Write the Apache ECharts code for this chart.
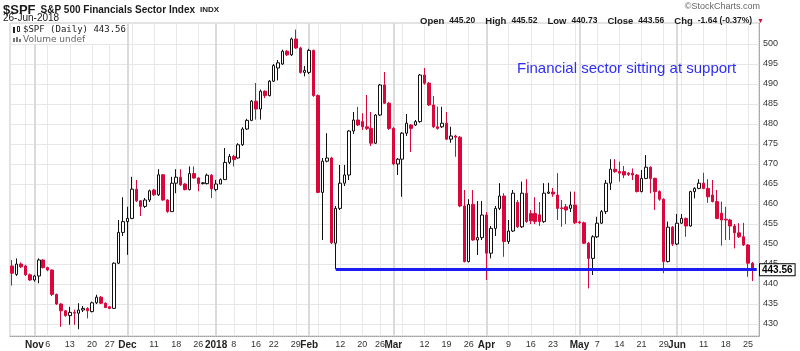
<!DOCTYPE html>
<html><head><meta charset="utf-8">
<script src="https://cdn.jsdelivr.net/npm/echarts@6/dist/echarts.min.js"></script>
<style>html,body{margin:0;padding:0;background:#fff}#c{width:800px;height:351px}</style>
</head><body><div id="c"></div>
<script>
const dates = [
'2017-10-25','2017-10-26','2017-10-27','2017-10-30','2017-10-31',
'2017-11-01','2017-11-02','2017-11-03','2017-11-06','2017-11-07','2017-11-08','2017-11-09','2017-11-10',
'2017-11-13','2017-11-14','2017-11-15','2017-11-16','2017-11-17','2017-11-20','2017-11-21','2017-11-22','2017-11-24',
'2017-11-27','2017-11-28','2017-11-29','2017-11-30',
'2017-12-01','2017-12-04','2017-12-05','2017-12-06','2017-12-07','2017-12-08','2017-12-11','2017-12-12','2017-12-13','2017-12-14','2017-12-15',
'2017-12-18','2017-12-19','2017-12-20','2017-12-21','2017-12-22','2017-12-26','2017-12-27','2017-12-28','2017-12-29',
'2018-01-02','2018-01-03','2018-01-04','2018-01-05','2018-01-08','2018-01-09','2018-01-10','2018-01-11','2018-01-12',
'2018-01-16','2018-01-17','2018-01-18','2018-01-19','2018-01-22','2018-01-23','2018-01-24','2018-01-25','2018-01-26',
'2018-01-29','2018-01-30','2018-01-31',
'2018-02-01','2018-02-02','2018-02-05','2018-02-06','2018-02-07','2018-02-08','2018-02-09','2018-02-12','2018-02-13','2018-02-14','2018-02-15','2018-02-16',
'2018-02-20','2018-02-21','2018-02-22','2018-02-23','2018-02-26','2018-02-27','2018-02-28',
'2018-03-01','2018-03-02','2018-03-05','2018-03-06','2018-03-07','2018-03-08','2018-03-09','2018-03-12','2018-03-13','2018-03-14','2018-03-15','2018-03-16',
'2018-03-19','2018-03-20','2018-03-21','2018-03-22','2018-03-23','2018-03-26','2018-03-27','2018-03-28','2018-03-29',
'2018-04-02','2018-04-03','2018-04-04','2018-04-05','2018-04-06','2018-04-09','2018-04-10','2018-04-11','2018-04-12','2018-04-13',
'2018-04-16','2018-04-17','2018-04-18','2018-04-19','2018-04-20','2018-04-23','2018-04-24','2018-04-25','2018-04-26','2018-04-27','2018-04-30',
'2018-05-01','2018-05-02','2018-05-03','2018-05-04','2018-05-07','2018-05-08','2018-05-09','2018-05-10','2018-05-11',
'2018-05-14','2018-05-15','2018-05-16','2018-05-17','2018-05-18','2018-05-21','2018-05-22','2018-05-23','2018-05-24','2018-05-25',
'2018-05-29','2018-05-30','2018-05-31',
'2018-06-01','2018-06-04','2018-06-05','2018-06-06','2018-06-07','2018-06-08','2018-06-11','2018-06-12','2018-06-13','2018-06-14','2018-06-15',
'2018-06-18','2018-06-19','2018-06-20','2018-06-21','2018-06-22','2018-06-25','2018-06-26'
];
const open = [
444.5,442.4,445.0,444.5,442.3,
441.0,442.0,446.0,444.1,443.5,437.4,435.0,433.3,
432.1,432.9,432.7,433.5,433.9,
433.1,435.3,436.7,435.2,
434.3,433.9,445.2,452.9,
455.6,
456.4,463.7,460.8,459.4,461.0,
463.5,462.3,467.3,461.0,458.1,
465.2,466.7,465.0,463.6,467.6,
466.5,465.1,465.1,467.2,
463.6,465.0,466.1,470.4,
471.9,471.5,474.8,478.75,480.9,
485.7,483.75,488.2,487.1,
490.7,494.0,495.0,498.2,497.3,
501.25,499.0,492.9,
492.9,498.4,
487.1,462.9,470.7,471.5,450.2,
458.9,465.2,467.25,478.25,481.0,
480.6,479.3,478.9,475.2,
482.25,489.75,485.2,
478.9,470.0,
471.2,477.7,479.75,479.75,480.6,
492.25,490.2,484.75,479.3,479.3,
480.2,476.2,477.0,476.7,459.5,
445.6,459.9,451.0,451.6,
457.25,447.7,453.9,458.9,462.0,
450.6,453.25,460.4,454.3,462.7,
457.6,457.6,457.3,455.6,462.7,
463.0,462.25,459.0,459.3,458.9,
459.75,
455.5,455.3,450.2,446.4,
451.8,455.2,458.1,465.2,468.7,
468.1,468.1,467.7,467.7,467.25,
463.1,466.4,469.2,466.4,463.1,
461.2,445.6,454.2,
450.0,
455.2,456.4,454.5,463.1,463.9,
465.2,463.9,462.25,460.6,457.7,
456.2,456.0,454.5,452.8,451.8,
449.75,445.2
];
const high = [
446.0,446.4,445.4,444.8,442.6,
442.3,446.4,446.2,444.3,443.6,437.6,435.2,433.5,
434.3,433.6,435.2,434.5,434.2,
435.6,437.3,437.0,435.4,
434.5,445.4,456.0,461.7,
459.3,
466.8,466.0,461.0,461.5,463.6,
463.8,468.7,467.5,461.2,466.8,
468.7,468.7,465.2,469.4,469.4,
466.7,465.5,467.6,467.5,
466.0,466.4,474.0,472.5,
472.3,475.2,479.2,481.3,486.0,
490.25,488.6,488.4,491.0,
495.0,496.0,498.6,498.5,501.6,
503.6,499.3,494.5,
498.8,498.6,
487.4,471.5,477.7,471.8,459.5,
469.75,469.75,478.5,483.0,484.3,
482.7,487.25,483.0,482.5,
490.0,493.0,485.5,
479.2,471.5,
478.0,482.5,480.0,481.0,492.5,
494.0,490.5,487.0,484.3,484.3,
483.0,479.3,477.3,477.0,463.5,
461.2,463.5,460.75,460.75,
458.0,454.5,459.5,465.2,462.7,
456.0,463.5,461.0,465.6,466.2,
458.5,461.7,460.5,465.2,465.3,
464.0,467.7,461.0,460.0,463.1,
463.1,
455.8,455.6,450.5,452.2,
456.8,458.5,466.0,471.2,471.2,
470.6,469.5,468.0,468.9,467.5,
468.5,472.25,469.4,466.6,463.4,
461.4,455.6,454.5,
457.5,
457.5,456.6,463.3,464.2,466.2,
467.8,466.2,466.0,463.5,460.6,
459.3,456.3,455.0,455.2,455.3,
450.0,445.52
];
const low = [
439.6,442.0,444.0,442.0,440.8,
440.6,440.2,443.9,443.2,437.0,434.8,429.3,431.8,
429.8,429.8,428.7,433.0,431.4,
432.9,435.0,435.0,434.0,
433.7,433.8,445.0,452.0,
447.3,
456.2,460.5,457.0,459.0,460.5,
462.0,462.0,460.8,457.8,458.0,
462.7,464.5,463.4,463.4,466.3,
463.2,464.9,464.9,461.5,
463.2,465.0,466.0,470.0,
469.4,471.3,474.5,478.5,480.7,
481.1,481.1,486.5,486.9,
490.5,490.9,494.8,497.0,497.0,
498.8,492.6,491.9,
492.5,486.8,
462.7,451.0,470.4,450.0,443.7,
458.5,464.5,466.0,477.5,479.5,
478.5,478.5,474.5,475.0,
482.0,485.0,478.5,
469.7,467.25,
461.8,477.0,473.0,479.5,480.3,
489.8,484.5,479.0,478.6,479.0,
476.0,475.3,471.8,459.2,445.4,
445.4,450.8,447.25,451.0,
441.0,446.4,452.0,458.5,446.8,
450.0,453.0,454.0,454.0,455.3,
455.0,455.0,454.5,455.3,462.5,
461.8,456.0,454.3,455.0,458.0,
455.0,
455.0,450.0,438.9,442.25,
451.5,455.0,457.5,463.5,467.8,
465.6,466.5,467.0,466.0,462.9,
462.9,466.2,462.7,458.5,460.8,
442.7,445.4,449.5,
449.7,
455.0,451.8,454.3,461.4,463.7,
463.7,460.3,460.4,456.2,449.6,
451.0,451.0,448.9,451.5,449.5,
441.8,440.73
];
const close = [
442.7,445.0,444.3,442.3,441.0,
442.0,446.0,444.1,443.5,437.4,435.0,433.3,432.1,
432.9,432.7,433.5,433.9,433.3,
435.3,436.7,435.2,434.1,
433.9,445.2,452.9,455.6,
456.4,
463.7,460.8,459.4,461.0,463.3,
462.3,467.3,461.0,458.1,465.2,
466.7,464.8,463.6,467.6,466.5,
465.1,465.3,467.2,463.8,
465.0,466.1,470.4,471.9,
471.1,474.8,478.75,480.9,485.7,
483.75,488.2,487.1,490.7,
494.6,495.3,498.2,497.3,501.25,
499.0,492.9,493.4,
498.4,487.1,
462.9,470.7,471.5,450.3,458.9,
465.2,467.25,478.25,481.0,479.75,
479.3,478.9,475.2,482.25,
489.75,485.2,478.9,
470.0,471.2,
477.7,480.2,478.9,480.6,492.25,
490.2,484.75,479.3,478.9,480.2,
476.2,477.0,476.7,459.5,445.6,
459.9,451.0,451.6,457.25,
447.7,453.9,458.9,462.0,450.6,
453.25,462.7,454.3,462.7,455.6,
455.8,455.6,455.6,462.7,463.0,
462.5,458.9,458.9,458.5,459.75,
455.3,
455.3,450.2,446.4,451.8,
455.2,458.1,465.2,468.7,468.1,
467.7,467.25,467.4,467.25,463.1,
466.4,469.2,466.4,463.1,461.2,
445.6,454.2,450.0,
455.2,
456.4,454.5,463.1,463.9,465.2,
463.9,461.8,460.6,456.4,456.0,
456.0,454.5,452.8,451.8,449.75,
445.2,443.56
];
// x tick labels: [date, text, isMonth]
const xTickLabels = [
['2017-11-01','Nov',1],['2017-11-06','6',0],['2017-11-13','13',0],['2017-11-20','20',0],['2017-11-27','27',0],
['2017-12-01','Dec',1],['2017-12-11','11',0],['2017-12-18','18',0],['2017-12-26','26',0],
['2018-01-02','2018',1],['2018-01-08','8',0],['2018-01-16','16',0],['2018-01-22','22',0],['2018-01-29','29',0],
['2018-02-01','Feb',1],['2018-02-12','12',0],['2018-02-20','20',0],['2018-02-26','26',0],
['2018-03-01','Mar',1],['2018-03-12','12',0],['2018-03-19','19',0],['2018-03-26','26',0],
['2018-04-02','Apr',1],['2018-04-09','9',0],['2018-04-16','16',0],['2018-04-23','23',0],
['2018-05-01','May',1],['2018-05-07','7',0],['2018-05-14','14',0],['2018-05-21','21',0],['2018-05-29','29',0],
['2018-06-01','Jun',1],['2018-06-11','11',0],['2018-06-18','18',0],['2018-06-25','25',0]
];
const weekStarts = ['2017-10-30','2017-11-06','2017-11-13','2017-11-20','2017-11-27','2017-12-04','2017-12-11','2017-12-18','2017-12-26',
'2018-01-08','2018-01-16','2018-01-22','2018-01-29','2018-02-05','2018-02-12','2018-02-20','2018-02-26','2018-03-05','2018-03-12',
'2018-03-19','2018-03-26','2018-04-09','2018-04-16','2018-04-23','2018-04-30','2018-05-07','2018-05-14','2018-05-21','2018-05-29',
'2018-06-04','2018-06-11','2018-06-18','2018-06-25'];
const monthStarts = ['2017-11-01','2017-12-01','2018-01-02','2018-02-01','2018-03-01','2018-04-02','2018-05-01','2018-06-01'];
const yTicks = [430,435,440,445,450,455,460,465,470,475,480,485,490,495,500];
const supportLevel = 443.7;
const supportFrom = '2018-02-09';
const lastClose = 443.56;

const cats = dates.concat(['']);
const labelMap = {};
xTickLabels.forEach(t => { labelMap[t[0]] = t; });
const candles = dates.map((d, i) => [open[i], close[i], low[i], high[i]]);
const gridLines = weekStarts.map(d => ({xAxis: d, lineStyle: {color: '#e8e8e8', width: 1, type: 'solid'}}))
  .concat(monthStarts.map(d => ({xAxis: d, lineStyle: {color: '#dadada', width: 2, type: 'solid'}})));

const RED = '#d9073b';
const chart = echarts.init(document.getElementById('c'), null, {renderer: 'canvas'});
chart.setOption({
  animation: false,
  backgroundColor: '#fff',
  textStyle: {fontFamily: 'Liberation Sans'},
  grid: {left: 10, right: 41, top: 23, bottom: 15, show: true, borderColor: '#c8c8c8', borderWidth: 1, backgroundColor: 'transparent'},
  title: [
    {left: 3, top: 1, padding: 0, text: '{a|$SPF} {b|S&P 500 Financials Sector Index} {c|INDX}',
      textStyle: {rich: {a: {fontSize: 13, fontWeight: 'bold', color: '#1a1a1a', fontFamily: 'Liberation Sans'},
        b: {fontSize: 10, color: '#1a1a1a', fontFamily: 'Liberation Sans'}, c: {fontSize: 8, color: '#1a1a1a', fontFamily: 'Liberation Sans'}}}},
    {left: 3, top: 13, padding: 0, text: '26-Jun-2018', textStyle: {fontSize: 10, fontWeight: 'normal', color: '#1a1a1a', fontFamily: 'Liberation Sans'}},
    {right: 40, top: 2, padding: 0, text: '©StockCharts.com', textStyle: {fontSize: 9, fontWeight: 'normal', color: '#666', fontFamily: 'Liberation Sans'}},
    {right: 36, top: 12, padding: 0,
      text: '{k|Open} {v|445.20}  {k|High} {v|445.52}  {k|Low} {v|440.73}  {k|Close} {v|443.56}  {k|Chg} {v|-1.64 (-0.37%)} {r|▼}',
      textStyle: {rich: {k: {fontSize: 9.5, fontWeight: 'bold', color: '#1a1a1a', fontFamily: 'Liberation Sans'},
        v: {fontSize: 8.5, color: '#1a1a1a', fontFamily: 'Liberation Sans'}, r: {fontSize: 7, color: RED}}}},
    {left: 23, top: 25, padding: 0, text: '$SPF (Daily) 443.56', textStyle: {fontSize: 9, fontWeight: 'normal', color: '#1a1a1a', fontFamily: 'DejaVu Sans Mono'}},
    {left: 23, top: 35, padding: 0, text: 'Volume undef', textStyle: {fontSize: 9, fontWeight: 'normal', color: '#666', fontFamily: 'DejaVu Sans'}},
    {left: 517, top: 61, padding: 0, text: 'Financial sector sitting at support', textStyle: {fontSize: 15, fontWeight: 'normal', color: '#2e2ef5', fontFamily: 'Liberation Sans'}}
  ],
  graphic: [
    {type: 'rect', left: 11, top: 24, shape: {width: 116, height: 20}, style: {fill: '#fff'}, z: 5},
    {type: 'rect', left: 13, top: 27, shape: {width: 2, height: 6}, style: {fill: '#222'}, z: 6},
    {type: 'rect', left: 17, top: 26, shape: {width: 2, height: 5}, style: {fill: '#fff', stroke: '#222', lineWidth: 1}, z: 6},
    {type: 'rect', left: 13, top: 38, shape: {width: 2, height: 4}, style: {fill: '#777'}, z: 6},
    {type: 'rect', left: 16, top: 37, shape: {width: 2, height: 5}, style: {fill: '#777'}, z: 6},
    {type: 'rect', left: 19, top: 39, shape: {width: 2, height: 3}, style: {fill: '#777'}, z: 6}
  ],
  xAxis: {
    type: 'category', data: cats, boundaryGap: true,
    axisLine: {show: true, lineStyle: {color: '#a0a0a0', type: 'dotted', width: 1}},
    axisTick: {show: false},
    splitLine: {show: false},
    axisLabel: {
      interval: (i) => labelMap[cats[i]] !== undefined,
      formatter: (v) => { const t = labelMap[v]; if (!t) return ''; return t[2] ? '{m|' + t[1] + '}' : t[1]; },
      margin: 4, fontSize: 9, color: '#333', fontFamily: 'Liberation Sans',
      rich: {m: {fontSize: 10, fontWeight: 'bold', color: '#222', fontFamily: 'Liberation Sans'}}
    }
  },
  yAxis: {
    type: 'value', position: 'right', min: 427, max: 505.25, scale: true,
    axisLine: {show: true, lineStyle: {color: '#a0a0a0', type: 'dotted', width: 1}},
    axisTick: {show: false, customValues: yTicks},
    axisLabel: {customValues: yTicks, margin: 4, fontSize: 9, color: '#333', fontFamily: 'Liberation Sans'},
    splitLine: {show: true, lineStyle: {color: '#e6e6e6', width: 1}}
  },
  series: [
    {
      type: 'line', data: [], silent: true, z: 1,
      markLine: {silent: true, symbol: ['none', 'none'], z: 1, label: {show: false}, animation: false, data: gridLines}
    },
    {
      type: 'candlestick', name: '$SPF', data: candles, barWidth: 3, z: 3,
      itemStyle: {color: '#ffffff', borderColor: '#111', color0: RED, borderColor0: RED, borderWidth: 1},
      markLine: {
        silent: true, symbol: ['none', 'none'], z: 10, animation: false,
        data: [
          [{coord: [supportFrom, supportLevel], lineStyle: {color: '#1c1cf5', width: 3, type: 'solid'}, label: {show: false}},
           {coord: [dates.length, supportLevel]}],
          {yAxis: lastClose, lineStyle: {color: 'rgba(0,0,0,0)', width: 0},
            label: {show: true, position: 'end', distance: 1, formatter: lastClose.toFixed(2),
              fontSize: 10, fontWeight: 'bold', color: '#000', backgroundColor: '#fff', borderColor: '#000', borderWidth: 1,
              padding: [1, 2, 0, 2], fontFamily: 'Liberation Sans'}}
        ]
      }
    }
  ]
});
</script></body></html>
